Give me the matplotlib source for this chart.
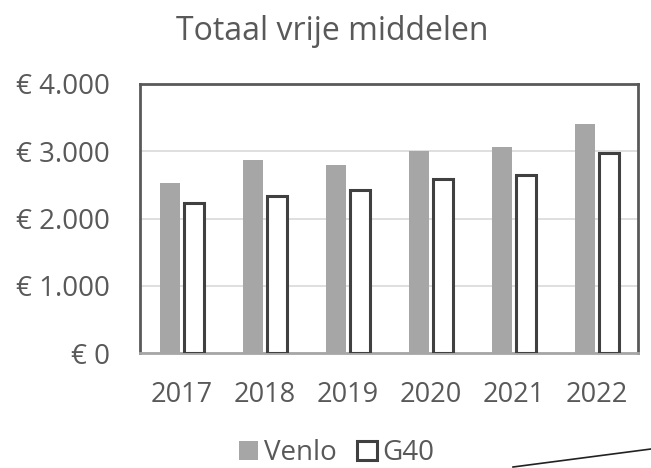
import matplotlib
matplotlib.use("Agg")
import matplotlib.pyplot as plt
from matplotlib.patches import Patch
from matplotlib.lines import Line2D
import numpy as np

years = ["2017", "2018", "2019", "2020", "2021", "2022"]
venlo = [2530, 2870, 2800, 3005, 3065, 3410]
g40 = [2230, 2330, 2430, 2580, 2650, 2970]
yticks = [0, 1000, 2000, 3000, 4000]
ytick_labels = ["€ 0", "€ 1.000", "€ 2.000", "€ 3.000", "€ 4.000"]

plt.rcParams['font.family'] = ['Open Sans', 'DejaVu Sans']
txt = '#595959'

fig = plt.figure(figsize=(6.51, 4.68), dpi=100)
ax = fig.add_axes([140/651, 1-353/468, (638-140)/651, (353-84)/468])

x = np.arange(len(years))
w = 0.24
ax.bar(x - 0.14, venlo, width=w, color='#a6a6a6', zorder=3)
ax.bar(x + 0.147, g40, width=w, facecolor='white', edgecolor='#404040', linewidth=2.2, zorder=3)

ax.set_xlim(-0.5, len(years) - 0.5)
ax.set_ylim(0, 4000)
ax.set_yticks(yticks)
ax.set_yticklabels(ytick_labels)
ax.set_xticks(x)
ax.set_xticklabels(years)
ax.grid(axis='y', color='#d9d9d9', linewidth=1.2, zorder=0)
ax.tick_params(axis='both', length=0, colors=txt)
ax.tick_params(axis='x', pad=20, labelsize=19.5)
ax.tick_params(axis='y', pad=21.5, labelsize=20)
for s in ['left', 'top', 'right']:
    ax.spines[s].set_color('#595959')
    ax.spines[s].set_linewidth(2)
ax.spines['bottom'].set_color('#a6a6a6')
ax.spines['bottom'].set_linewidth(2)

fig.text(332/651, 1-32/468, "Totaal vrije middelen", ha='center', va='center', fontsize=23, color=txt)

handles = [Patch(facecolor='#a6a6a6', edgecolor='none'),
           Patch(facecolor='white', edgecolor='#404040', linewidth=2.2)]
leg = fig.legend(handles, ["Venlo", "G40"], loc='center', bbox_to_anchor=(336.5/651, 1-453/468),
                 ncol=2, frameon=False, fontsize=20, handlelength=0.7, handleheight=0.7,
                 handletextpad=0.2, columnspacing=0.75, labelcolor=txt, borderpad=0)

fig.add_artist(Line2D([513/651, 651/651], [1-467/468, 1-449/468], color='#222222', linewidth=1.2))

fig.savefig("out.png", dpi=100)
